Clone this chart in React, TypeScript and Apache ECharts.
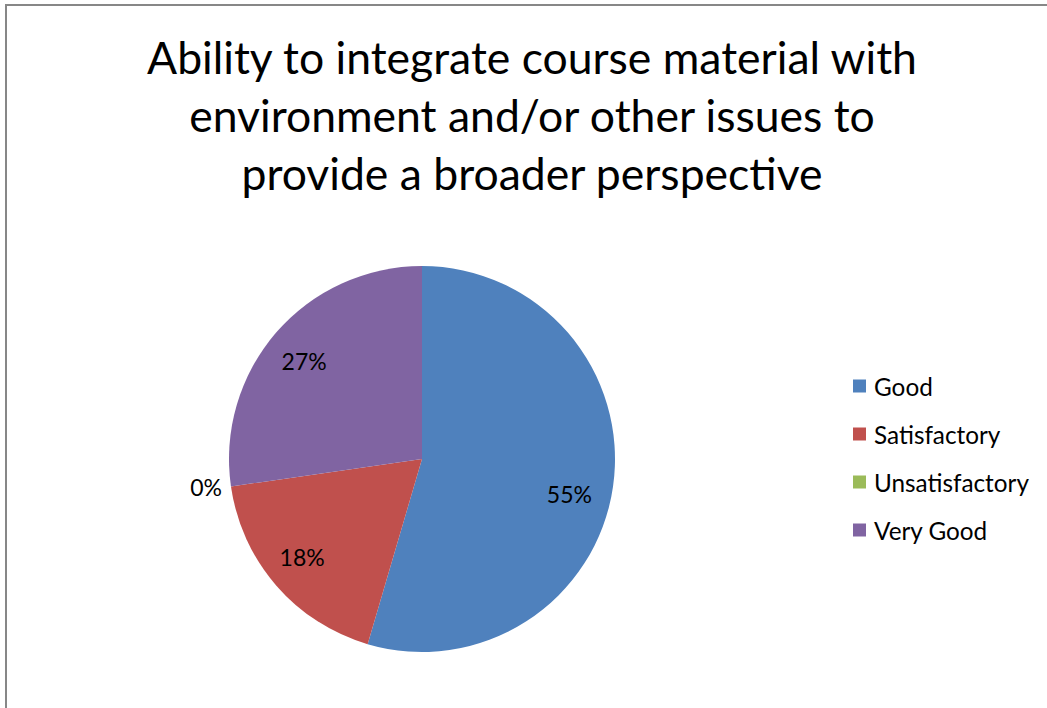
import React, { useEffect, useRef } from "react";
import * as echarts from "echarts";

const titleText = "Ability to integrate course material with\nenvironment and/or other issues to\nprovide a broader perspective";
const categories = ["Good", "Satisfactory", "Unsatisfactory", "Very Good"];
const counts = [6, 2, 0, 3];
const colors = ["#4F81BD", "#C0504D", "#9BBB59", "#8064A2"];

const FONT = "Lato, 'Open Sans', sans-serif";

export default function App() {
  const ref = useRef<HTMLDivElement>(null);
  useEffect(() => {
    if (!ref.current) return;
    const chart = echarts.init(ref.current, undefined, { renderer: "svg" });
    const data = categories.map((c, i) => ({ name: c, value: counts[i] }));
    const labelOffsets: Record<string, number[]> = {
      Good: [-7, 13],
      Satisfactory: [-2, -4],
      "Very Good": [0, 4],
    };
    const overlayData = categories.map((c, i) => {
      if (counts[i] === 0) {
        return {
          name: c,
          value: counts[i],
          label: { position: "outside" as const },
          labelLine: { show: false, length: 4, length2: 0 },
        };
      }
      return { name: c, value: counts[i], label: { offset: labelOffsets[c] || [0, 0] } };
    });
    chart.setOption({
      animation: false,
      color: colors,
      backgroundColor: "#ffffff",
      title: {
        text: titleText,
        left: 527,
        top: 22,
        textAlign: "center",
        textStyle: {
          fontFamily: FONT,
          fontSize: 44.5,
          fontWeight: "normal",
          color: "#000000",
          lineHeight: 58,
        },
      },
      legend: {
        orient: "vertical",
        left: 848,
        top: 369,
        itemWidth: 13,
        itemHeight: 13,
        itemGap: 24,
        icon: "rect",
        data: categories,
        textStyle: { fontFamily: FONT, fontSize: 24.3, color: "#000", lineHeight: 24, padding: [0, 0, 0, 3] },
      },
      graphic: [
        {
          type: "rect",
          shape: { x: 6, y: 5, width: 1200, height: 900 },
          style: { fill: "none", stroke: "#878787", lineWidth: 2 },
          silent: true,
        },
      ],
      series: [
        {
          type: "pie",
          center: [422, 459],
          radius: [0, 193],
          startAngle: 90,
          clockwise: true,
          data,
          label: { show: false },
          labelLine: { show: false },
          emphasis: { disabled: true },
          silent: true,
        },
        {
          type: "pie",
          center: [422, 459],
          radius: [113, 193],
          startAngle: 90,
          clockwise: true,
          percentPrecision: 0,
          data: overlayData,
          itemStyle: { color: "rgba(0,0,0,0)" },
          label: {
            show: true,
            position: "inside",
            formatter: "{d}%",
            fontFamily: FONT,
            fontSize: 23,
            color: "#000",
          },
          labelLine: { show: false },
          emphasis: { disabled: true },
          silent: true,
        },
      ],
    });
    return () => chart.dispose();
  }, []);
  return (
    <div
      ref={ref}
      style={{ position: "fixed", left: 0, top: 0, width: 1047, height: 708 }}
    />
  );
}
